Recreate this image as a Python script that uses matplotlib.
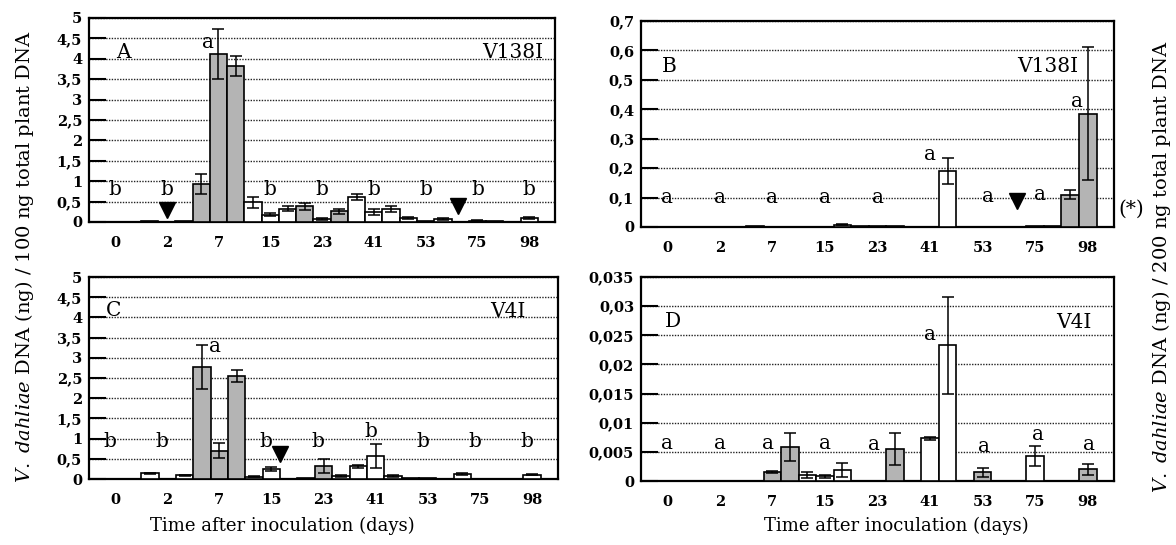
import numpy as np
import matplotlib
matplotlib.use('Agg')
import matplotlib.pyplot as plt

plt.rcParams['font.family'] = 'DejaVu Serif'
plt.rcParams['mathtext.fontset'] = 'custom'
plt.rcParams['mathtext.it'] = 'DejaVu Serif:italic'
plt.rcParams['mathtext.rm'] = 'DejaVu Serif'

days = ['0', '2', '7', '15', '23', '41', '53', '75', '98']

# three bars per sampling day
vals_a = [0, 0, 0, 0.02, 0, 0.02, 0.93, 4.12, 3.83, 0.48, 0.18, 0.33, 0.38, 0.07, 0.26,
          0.61, 0.25, 0.32, 0.10, 0.02, 0.07, 0.01, 0.03, 0.02, 0.01, 0.10, 0.01]
err_a = [0, 0, 0, 0, 0, 0, 0.25, 0.62, 0.25, 0.13, 0.03, 0.07, 0.08, 0.02, 0.06,
         0.08, 0.08, 0.08, 0.02, 0, 0.02, 0, 0.01, 0, 0, 0.02, 0]
fill_a = 'www' 'www' 'ggg' 'www' 'gwg' 'www' 'www' 'www' 'www'

vals_b = [0, 0, 0, 0, 0, 0, 0.002, 0, 0, 0, 0, 0.008, 0.004, 0.002, 0.002,
          0, 0, 0.19, 0, 0, 0, 0, 0.002, 0.003, 0.11, 0.385, 0]
err_b = [0, 0, 0, 0, 0, 0, 0, 0, 0, 0, 0, 0.002, 0, 0, 0,
         0, 0, 0.045, 0, 0, 0, 0, 0, 0, 0.015, 0.225, 0]
fill_b = 'www' 'www' 'www' 'www' 'www' 'www' 'www' 'www' 'ggw'

vals_c = [0, 0, 0, 0.14, 0.01, 0.09, 2.77, 0.70, 2.55, 0.06, 0.24, 0, 0.03, 0.33, 0.08,
          0.31, 0.57, 0.08, 0.03, 0.02, 0, 0.13, 0, 0, 0.01, 0.11, 0]
err_c = [0, 0, 0, 0.02, 0, 0.01, 0.54, 0.18, 0.16, 0.01, 0.05, 0, 0, 0.17, 0.02,
         0.04, 0.30, 0.02, 0, 0, 0, 0.02, 0, 0, 0, 0.01, 0]
fill_c = 'www' 'www' 'ggg' 'www' 'wgw' 'www' 'www' 'www' 'www'

vals_d = [0, 0, 0, 0, 0, 0, 0, 0.0015, 0.0058, 0.0010, 0.0008, 0.0019, 0, 0, 0.0055,
          0, 0.0073, 0.0233, 0, 0.0015, 0, 0, 0.0043, 0, 0, 0.0020, 0]
err_d = [0, 0, 0, 0, 0, 0, 0, 0.0002, 0.0024, 0.0005, 0.0002, 0.0012, 0, 0, 0.0028,
         0, 0.0003, 0.0083, 0, 0.0008, 0, 0, 0.0017, 0, 0, 0.0010, 0]
fill_d = 'www' 'www' 'wgg' 'www' 'wwg' 'www' 'wgw' 'www' 'wgw'

# significance letters per day (text, height, shift in day units)
let_a = ['b', 'b', 'a', 'b', 'b', 'b', 'b', 'b', 'b']
let_a_y = [0.8, 0.8, 4.4, 0.8, 0.8, 0.8, 0.8, 0.8, 0.8]
let_a_dx = [0, 0, -0.2, 0, 0, 0, 0, 0, 0]
let_b = ['a'] * 9
let_b_y = [0.1, 0.1, 0.1, 0.1, 0.1, 0.245, 0.105, 0.11, 0.425]
let_b_dx = [0, 0, 0, 0, 0, 0, 0.1, 0.1, -0.2]
let_c = ['b', 'b', 'a', 'b', 'b', 'b', 'b', 'b', 'b']
let_c_y = [0.92, 0.92, 3.27, 0.92, 0.92, 1.18, 0.92, 0.92, 0.92]
let_c_dx = [-0.1, -0.1, -0.08, -0.1, -0.1, -0.1, -0.1, -0.1, -0.1]
let_d = ['a'] * 9
let_d_y = [0.0065, 0.0065, 0.0065, 0.0065, 0.0063, 0.0252, 0.006, 0.008, 0.0062]
let_d_dx = [0, 0, -0.08, 0, -0.07, 0, 0.03, 0.05, 0.03]

# inoculation triangles (x in day units, y)
tri_a_x, tri_a_y = [1.0, 6.62], [0.3, 0.4]
tri_b_x, tri_b_y = [6.65], [0.09]
tri_c_x, tri_c_y = [3.17], [0.63]

yt_a = [0, 0.5, 1, 1.5, 2, 2.5, 3, 3.5, 4, 4.5, 5]
yt_b = [0, 0.1, 0.2, 0.3, 0.4, 0.5, 0.6, 0.7]
yt_d = [0, 0.005, 0.01, 0.015, 0.02, 0.025, 0.03, 0.035]

colors = {'g': '#b4b4b4', 'w': 'white'}

fig = plt.figure(figsize=(11.76, 5.45), dpi=100)


def panel(rect, vals, errs, fills, letters, ly, ldx, tx, ty, yticks, tag, tag_xy, strain, strain_xy):
    ax = fig.add_axes(rect)
    n = len(days)
    xpos = np.array([i + (j - 1) / 3 for i in range(n) for j in range(3)])
    ax.bar(xpos, vals, width=1 / 3, color=[colors[f] for f in fills],
           edgecolor='black', linewidth=1.2, zorder=3)
    e = np.array(errs)
    m = e > 0
    ax.errorbar(xpos[m], np.array(vals)[m], yerr=e[m], fmt='none', ecolor='black',
                elinewidth=1.1, capsize=4, capthick=1.1, zorder=4)
    for i in range(n):
        ax.text(i + ldx[i], ly[i], letters[i], ha='center', va='center', fontsize=14.5, zorder=5)
    if tx:
        ax.plot(tx, ty, 'v', color='black', markersize=12, zorder=5)
    ax.set_xlim(-0.5, n - 0.5)
    ax.set_ylim(yticks[0], yticks[-1])
    ax.set_yticks(yticks)
    ax.set_yticklabels([('%g' % t).replace('.', ',') for t in yticks],
                       fontsize=10.5, fontweight='bold')
    ax.set_xticks(range(n))
    ax.set_xticklabels(days, fontsize=10.5, fontweight='bold')
    ax.tick_params(axis='x', length=0, pad=10)
    ax.tick_params(axis='y', direction='in', length=12, width=1.5, pad=5)
    ax.yaxis.grid(True, linestyle=(0, (1, 1)), color='#222222', linewidth=1.0)
    ax.set_axisbelow(True)
    for s in ax.spines.values():
        s.set_linewidth(1.6)
    ax.text(*tag_xy, tag, transform=ax.transAxes, fontsize=14.5, va='center')
    ax.text(*strain_xy, strain, transform=ax.transAxes, fontsize=14.5, va='center', ha='right')
    return ax


panel([0.0757, 0.5927, 0.3963, 0.3743], vals_a, err_a, fill_a, let_a, let_a_y, let_a_dx,
      tri_a_x, tri_a_y, yt_a, 'A', (0.058, 0.83), 'V138I', (0.975, 0.83))
axb = panel([0.5451, 0.5835, 0.4022, 0.378], vals_b, err_b, fill_b, let_b, let_b_y, let_b_dx,
            tri_b_x, tri_b_y, yt_b, 'B', (0.045, 0.78), 'V138I', (0.925, 0.78))
axb.text(1.01, 0.085, '(*)', transform=axb.transAxes, fontsize=14.5, va='center')
panel([0.0757, 0.1211, 0.3988, 0.3706], vals_c, err_c, fill_c, let_c, let_c_y, let_c_dx,
      tri_c_x, tri_c_y, yt_a, 'C', (0.036, 0.835), 'V4I', (0.93, 0.83))
panel([0.5451, 0.1174, 0.4022, 0.3743], vals_d, err_d, fill_d, let_d, let_d_y, let_d_dx,
      [], [], yt_d, 'D', (0.05, 0.78), 'V4I', (0.953, 0.775))

fig.text(0.021, 0.53, r'$\it{V.\ dahliae}$ DNA (ng) / 100 ng total plant DNA',
         rotation=90, ha='center', va='center', fontsize=14)
fig.text(0.988, 0.51, r'$\it{V.\ dahliae}$ DNA (ng) / 200 ng total plant DNA',
         rotation=90, ha='center', va='center', fontsize=14)
fig.text(0.24, 0.035, 'Time after inoculation (days)', ha='center', va='center', fontsize=13)
fig.text(0.762, 0.035, 'Time after inoculation (days)', ha='center', va='center', fontsize=13)

fig.savefig('out.png', dpi=100)
